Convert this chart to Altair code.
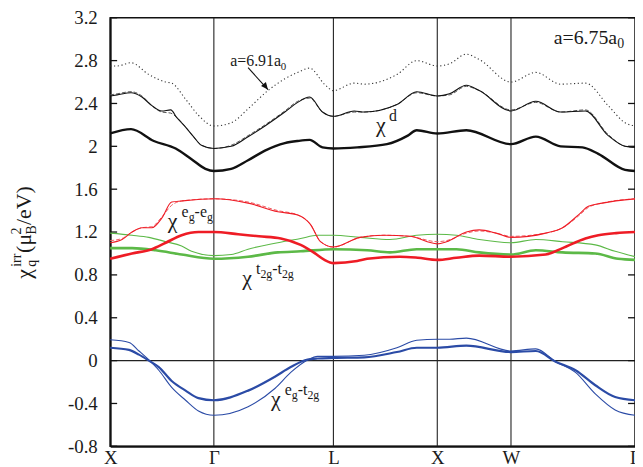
import altair as alt
import pandas as pd

# ---------------- data ----------------
SYM_POS = [0, 104.5, 225, 329.7, 404, 529]
SYM_LAB = ["X", "Γ", "L", "X", "W", "Γ"]
Y_TICKS = [-0.8, -0.4, 0, 0.4, 0.8, 1.2, 1.6, 2.0, 2.4, 2.8, 3.2]

k_d_thick = [0, 21, 44, 66, 82, 96, 104.5, 122, 139, 156, 176, 189, 201, 214, 225, 249, 279, 300, 309, 329.7, 359, 404, 429, 454, 476, 492, 519, 529]
v_d_thick = [2.12, 2.16, 2.05, 1.98, 1.88, 1.79, 1.77, 1.79, 1.87, 1.96, 2.03, 2.05, 2.06, 1.99, 1.98, 1.99, 2.02, 2.10, 2.15, 2.12, 2.15, 2.02, 2.09, 2.00, 1.99, 1.93, 1.78, 1.77]

k_d_thin = [0, 7, 21, 32, 42, 52, 61, 67, 76, 84, 92, 104.5, 122, 139, 156, 176, 189, 201, 214, 225, 246, 256, 289, 309, 329.7, 342, 359, 372, 404, 429, 454, 479, 502, 519, 529]
v_d_thin = [2.47, 2.48, 2.50, 2.46, 2.38, 2.33, 2.34, 2.27, 2.18, 2.09, 2.01, 1.98, 2.00, 2.09, 2.19, 2.32, 2.41, 2.46, 2.32, 2.28, 2.33, 2.32, 2.39, 2.51, 2.47, 2.49, 2.57, 2.52, 2.33, 2.42, 2.32, 2.33, 2.10, 2.00, 1.99]
v_d_dash = [2.48, 2.49, 2.51, 2.47, 2.38, 2.32, 2.31, 2.27, 2.18, 2.09, 2.01, 1.98, 2.01, 2.10, 2.20, 2.33, 2.42, 2.45, 2.32, 2.28, 2.32, 2.32, 2.39, 2.50, 2.47, 2.48, 2.56, 2.52, 2.34, 2.41, 2.32, 2.34, 2.11, 2.00, 1.99]

k_d_691 = [0, 7, 21, 39, 56, 62, 76, 89, 104.5, 122, 139, 159, 176, 189, 201, 216, 225, 246, 256, 289, 309, 329.7, 342, 359, 372, 404, 429, 454, 479, 502, 519, 529]
v_d_691 = [2.75, 2.75, 2.78, 2.67, 2.60, 2.59, 2.44, 2.29, 2.19, 2.22, 2.35, 2.52, 2.63, 2.69, 2.73, 2.58, 2.52, 2.59, 2.58, 2.67, 2.80, 2.75, 2.77, 2.86, 2.81, 2.60, 2.69, 2.58, 2.59, 2.38, 2.22, 2.19]

k_ee_thick = [0, 22, 42, 56, 72, 89, 104.5, 129, 150, 172, 192, 205, 216, 225, 249, 259, 292, 310, 329.7, 349, 372, 404, 439, 456, 479, 492, 510, 529]
v_ee_thick = [0.95, 1.00, 1.04, 1.10, 1.17, 1.20, 1.20, 1.18, 1.16, 1.14, 1.08, 1.01, 0.94, 0.91, 0.93, 0.95, 0.97, 0.96, 0.94, 0.96, 0.98, 0.97, 0.99, 1.05, 1.14, 1.17, 1.19, 1.20]

k_ee_thin = [0, 12, 22, 32, 42, 52, 62, 72, 104.5, 139, 169, 189, 202, 212, 225, 252, 276, 302, 329.7, 339, 359, 372, 389, 404, 439, 456, 472, 482, 496, 529]
v_ee_thin = [1.10, 1.13, 1.20, 1.24, 1.24, 1.33, 1.48, 1.49, 1.51, 1.47, 1.39, 1.36, 1.27, 1.11, 1.06, 1.15, 1.17, 1.16, 1.09, 1.11, 1.20, 1.22, 1.19, 1.15, 1.19, 1.24, 1.36, 1.44, 1.47, 1.51]
v_ee_dash = [1.12, 1.14, 1.20, 1.24, 1.25, 1.34, 1.45, 1.49, 1.51, 1.48, 1.40, 1.36, 1.27, 1.11, 1.06, 1.15, 1.17, 1.16, 1.11, 1.12, 1.19, 1.21, 1.19, 1.16, 1.19, 1.24, 1.35, 1.43, 1.47, 1.51]

k_tt_thick = [0, 22, 46, 72, 104.5, 139, 169, 192, 225, 259, 282, 309, 329.7, 349, 372, 404, 429, 456, 489, 512, 529]
v_tt_thick = [1.05, 1.05, 1.03, 0.99, 0.95, 0.97, 1.01, 1.02, 1.04, 1.03, 1.01, 1.04, 1.04, 1.04, 1.01, 0.99, 1.03, 1.01, 1.00, 0.95, 0.94]

k_tt_thin = [0, 22, 39, 56, 72, 82, 104.5, 122, 139, 169, 192, 209, 225, 252, 282, 309, 329.7, 349, 372, 404, 429, 456, 489, 509, 529]
v_tt_thin = [1.19, 1.17, 1.15, 1.11, 1.07, 1.02, 0.98, 0.99, 1.04, 1.10, 1.14, 1.17, 1.17, 1.15, 1.13, 1.17, 1.18, 1.17, 1.13, 1.10, 1.13, 1.11, 1.08, 1.02, 0.97]

k_et_thick = [0, 19, 29, 39, 49, 62, 76, 89, 104.5, 139, 166, 182, 199, 209, 225, 256, 289, 309, 329.7, 359, 404, 429, 449, 469, 489, 509, 529]
v_et_thick = [0.12, 0.10, 0.056, 0.0, -0.06, -0.19, -0.28, -0.35, -0.37, -0.28, -0.15, -0.06, 0.01, 0.02, 0.025, 0.03, 0.08, 0.12, 0.12, 0.14, 0.08, 0.09, -0.01, -0.09, -0.23, -0.34, -0.37]

k_et_thin = [0, 19, 29, 39, 49, 62, 76, 89, 104.5, 139, 166, 182, 199, 209, 225, 256, 289, 309, 329.7, 342, 359, 404, 429, 449, 469, 489, 509, 529]
v_et_thin = [0.195, 0.17, 0.09, 0.006, -0.09, -0.25, -0.37, -0.47, -0.51, -0.43, -0.26, -0.11, 0.006, 0.04, 0.04, 0.05, 0.12, 0.19, 0.20, 0.20, 0.21, 0.09, 0.11, -0.01, -0.11, -0.31, -0.46, -0.51]

LABEL_691 = ("a=6.91a", "0")
LABEL_675 = ("a=6.75a", "0")
ARROW_K = [139, 159]
ARROW_V = [2.734, 2.53]

# ---------------- styling ----------------
FONT = "Liberation Serif, DejaVu Serif, serif"
TXT = "#1a1a1a"
BLACK = "#111111"
RED = "#ee1c25"
GREEN = "#5cb947"
BLUE = "#2b4ba6"

W, H = 529, 432

xscale = alt.Scale(domain=[0, 529], nice=False, zero=False)
yscale = alt.Scale(domain=[-0.8, 3.2], nice=False, zero=False)

label_expr = ""
for p, l in zip(SYM_POS, SYM_LAB):
    label_expr += f"abs(datum.value - {p}) < 1 ? '{l}' : "
label_expr += "''"

xaxis = alt.Axis(values=SYM_POS, labelExpr=label_expr, tickSize=0, domainColor=BLACK,
                 domainWidth=2, labelFont=FONT, labelFontSize=19, labelColor=TXT,
                 labelPadding=2, grid=False, labelFlush=False, labelOverlap=False, title=None)
yaxis = alt.Axis(values=Y_TICKS, labelExpr="replace(format(datum.value, '.1~f'), '\u2212', '-')",
                 tickSize=0, domainColor=BLACK, domainWidth=2, labelFont=FONT, labelFontSize=19,
                 labelColor=TXT, labelPadding=13, grid=False, labelOverlap=False, title=None)


def X():
    return alt.X("k:Q", scale=xscale, axis=xaxis, title=None)


def Y():
    return alt.Y("v:Q", scale=yscale, axis=yaxis, title=None)


def line(ks, vs, color, width, dash=None):
    df = pd.DataFrame({"k": ks, "v": vs})
    kw = dict(color=color, strokeWidth=width, interpolate="monotone")
    if dash:
        kw["strokeDash"] = dash
    return alt.Chart(df).mark_line(**kw).encode(x=X(), y=Y())


layers = []

# vertical lines at symmetry points
layers.append(alt.Chart(pd.DataFrame({"k": SYM_POS[1:-1]})).mark_rule(color="#222", strokeWidth=1.1).encode(x=X()))
# zero line
layers.append(alt.Chart(pd.DataFrame({"v": [0]})).mark_rule(color="#222", strokeWidth=1.1).encode(y=Y()))
# inward ticks
tick_df = pd.DataFrame({"v": Y_TICKS})
layers.append(alt.Chart(tick_df).mark_rule(color=BLACK, strokeWidth=1.3).encode(y=Y(), x=alt.value(0), x2=alt.value(7)))
layers.append(alt.Chart(tick_df).mark_rule(color=BLACK, strokeWidth=1.3).encode(y=Y(), x=alt.value(W - 7), x2=alt.value(W)))

# curves
layers += [
    line(k_d_691, v_d_691, "#333", 1.1, [1.2, 2.6]),
    line(k_d_thin, v_d_dash, "#555", 1.0, [4, 2]),
    line(k_d_thin, v_d_thin, BLACK, 1.1),
    line(k_d_thick, v_d_thick, BLACK, 2.4),
    line(k_tt_thin, v_tt_thin, GREEN, 1.1),
    line(k_tt_thick, v_tt_thick, GREEN, 2.6),
    line(k_ee_thin, v_ee_dash, "#f05a5f", 1.0, [4, 2]),
    line(k_ee_thin, v_ee_thin, RED, 1.1),
    line(k_ee_thick, v_ee_thick, RED, 2.6),
    line(k_et_thin, v_et_thin, BLUE, 1.1),
    line(k_et_thick, v_et_thick, BLUE, 2.2),
]

# arrow
arrow_df = pd.DataFrame({"k": ARROW_K, "v": ARROW_V})
layers.append(alt.Chart(arrow_df).mark_line(color=BLACK, strokeWidth=1.1).encode(x=X(), y=Y()))
layers.append(alt.Chart(arrow_df.iloc[[1]]).mark_point(shape="M0,0 L-0.45,-1 L0.45,-1 Z", filled=True,
                                                        color=BLACK, opacity=1, size=200, angle=320.7)
              .encode(x=X(), y=Y()))


def text_group(k, v, pieces, angle=0, pixel=False):
    out = []
    df = pd.DataFrame({"k": [k], "v": [v]})
    for txt, size, dx, dy in pieces:
        ch = alt.Chart(df).mark_text(text=txt, fontSize=size, dx=dx, dy=dy, align="left",
                                     baseline="alphabetic", font=FONT, color=TXT, angle=angle)
        if pixel:
            ch = ch.encode(x=alt.value(k), y=alt.value(v))
        else:
            ch = ch.encode(x=X(), y=Y())
        out.append(ch)
    return out


def kv(px, py):
    # page pixel -> data coordinates (annotation anchors)
    return px - 111, (360 - py) / 108.0


# chi labels
k, v = kv(379, 130)
layers += text_group(k, v, [("χ", 22, 0, 0), ("d", 16, 13, -12)])
k, v = kv(169, 226)
layers += text_group(k, v, [("χ", 22, 0, 0), ("e", 16, 14, -11), ("g", 12, 21.1, -7),
                            ("-e", 16, 27.1, -11), ("g", 12, 39.5, -7)])
k, v = kv(244, 284)
layers += text_group(k, v, [("χ", 22, 0, 0), ("t", 16, 14, -11), ("2g", 12, 18.4, -7),
                            ("-t", 16, 30.4, -11), ("2g", 12, 40.1, -7)])
k, v = kv(273, 406)
layers += text_group(k, v, [("χ", 22, 0, 0), ("e", 16, 14, -11), ("g", 12, 21.1, -7),
                            ("-t", 16, 27.1, -11), ("2g", 12, 36.8, -7)])
# lattice constant labels
k, v = kv(232, 63)
layers += text_group(k, v, [(LABEL_691[0], 16, 0, 0), (LABEL_691[1], 11, 51, 4)])
k, v = kv(558, 41)
layers += text_group(k, v, [(LABEL_675[0], 20, 0, 0), (LABEL_675[1], 14, 64, 4)])

# y-axis title (rotated), pixel anchor relative to plot origin
layers += text_group(-80, 263, [("χ", 22, 0, 0), ("q", 14, 12, 5), ("irr", 14, 12, -10),
                                ("(μ", 22, 26, 0), ("B", 14, 44.5, 5), ("2", 14, 44.5, -10),
                                ("/eV)", 22, 54, 0)], angle=270, pixel=True)

chart = alt.layer(*layers).properties(
    width=W, height=H,
    autosize=alt.AutoSizeParams(type="none"),
    padding={"left": 103, "top": 8, "right": 0, "bottom": 19},
).configure_view(stroke=BLACK, strokeWidth=1.5)

chart.save("out.html", embed_options={"renderer": "svg", "actions": False})
